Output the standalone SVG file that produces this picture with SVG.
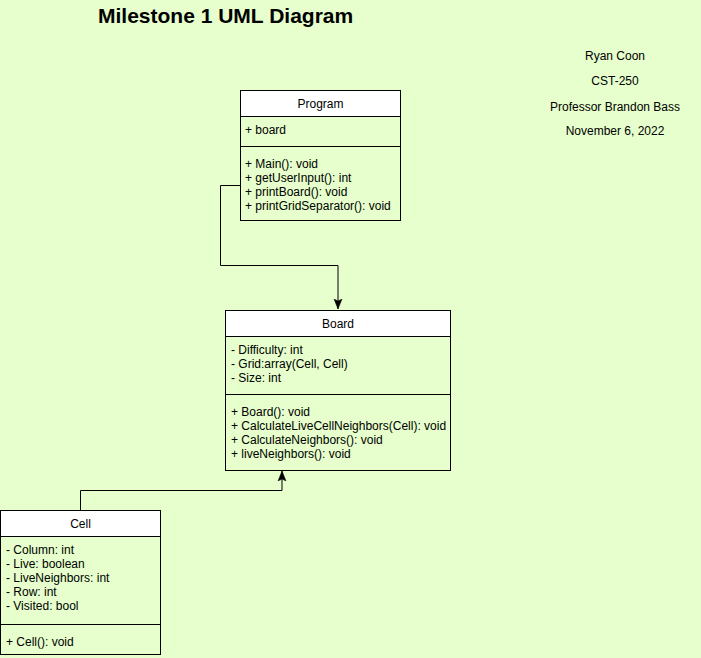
<svg xmlns="http://www.w3.org/2000/svg" width="701" height="658" viewBox="0 0 701 658">
<defs>
<style>
.bg{fill:#e6ffcc}
.box{fill:#e6ffcc;stroke:#000;stroke-width:1}
.hdr{fill:#fff;stroke:#000;stroke-width:1}
.sep{stroke:#000;stroke-width:1;fill:none}
.t{font-family:"Liberation Sans",Arial,sans-serif;font-size:12px;fill:#000}
.c{text-anchor:middle}
.title{font-family:"Liberation Sans",Arial,sans-serif;font-size:21px;font-weight:bold;fill:#000}
.edge{fill:none;stroke:#000;stroke-width:1}
</style>
<marker id="arr" viewBox="0 0 10 10" refX="10" refY="5" markerWidth="10" markerHeight="10" markerUnits="userSpaceOnUse" orient="auto">
<path d="M0,1 L10,5 L0,9 L2,5 Z" fill="#000" stroke="#000" stroke-width="0.5"/>
</marker>
</defs>
<rect class="bg" x="0" y="0" width="701" height="658"/>
<text class="title" x="98" y="23">Milestone 1 UML Diagram</text>
<g id="info">
<text class="t c" x="615" y="60">Ryan Coon</text>
<text class="t c" x="615" y="85">CST-250</text>
<text class="t c" x="615" y="111">Professor Brandon Bass</text>
<text class="t c" x="615" y="135">November 6, 2022</text>
</g>
<g id="connectors">
<path class="edge" d="M240.5,185.5 H220.5 V265.5 H338 V309" marker-end="url(#arr)"/>
<path class="edge" d="M80.5,510 V490.5 H282 V471" marker-end="url(#arr)"/>
</g>
<g id="program">
<rect class="box" x="240.5" y="90.5" width="160" height="130"/>
<rect class="hdr" x="240.5" y="90.5" width="160" height="26"/>
<line class="sep" x1="240.5" y1="146.5" x2="400.5" y2="146.5"/>
<text class="t c" x="320.5" y="108">Program</text>
<text class="t" x="245" y="134">+ board</text>
<text class="t" x="245" y="167.5">+ Main(): void</text>
<text class="t" x="245" y="181.5">+ getUserInput(): int</text>
<text class="t" x="245" y="195.5">+ printBoard(): void</text>
<text class="t" x="245" y="209.5">+ printGridSeparator(): void</text>
</g>
<g id="board">
<rect class="box" x="225.5" y="310.5" width="225" height="160"/>
<rect class="hdr" x="225.5" y="310.5" width="225" height="26"/>
<line class="sep" x1="225.5" y1="394.5" x2="450.5" y2="394.5"/>
<text class="t c" x="338" y="328">Board</text>
<text class="t" x="231" y="354">- Difficulty: int</text>
<text class="t" x="231" y="368">- Grid:array(Cell, Cell)</text>
<text class="t" x="231" y="382">- Size: int</text>
<text class="t" x="231" y="416">+ Board(): void</text>
<text class="t" x="231" y="430">+ CalculateLiveCellNeighbors(Cell): void</text>
<text class="t" x="231" y="444">+ CalculateNeighbors(): void</text>
<text class="t" x="231" y="458">+ liveNeighbors(): void</text>
</g>
<g id="cell">
<rect class="box" x="0.5" y="510.5" width="160" height="144"/>
<rect class="hdr" x="0.5" y="510.5" width="160" height="26"/>
<line class="sep" x1="0.5" y1="624.5" x2="160.5" y2="624.5"/>
<text class="t c" x="80.5" y="528">Cell</text>
<text class="t" x="6" y="553.5">- Column: int</text>
<text class="t" x="6" y="567.5">- Live: boolean</text>
<text class="t" x="6" y="581.5">- LiveNeighbors: int</text>
<text class="t" x="6" y="595.5">- Row: int</text>
<text class="t" x="6" y="609.5">- Visited: bool</text>
<text class="t" x="6" y="645.5">+ Cell(): void</text>
</g>
</svg>
